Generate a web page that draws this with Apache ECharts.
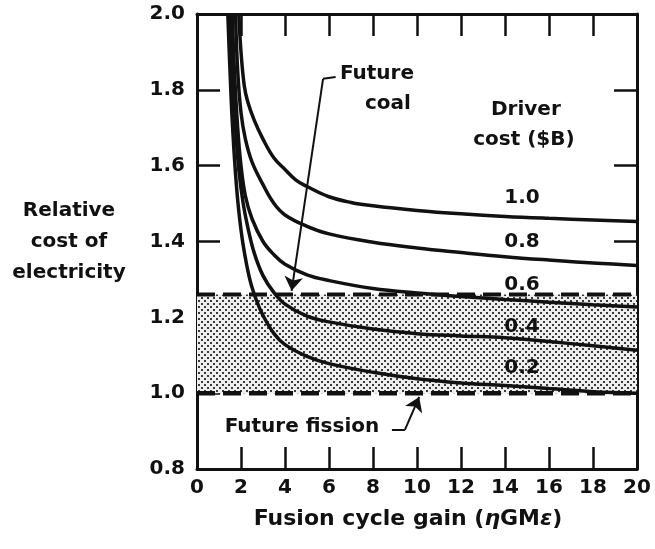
<!DOCTYPE html>
<html><head><meta charset="utf-8">
<script src="https://cdn.jsdelivr.net/npm/echarts@6/dist/echarts.min.js"></script>
<style>html,body{margin:0;padding:0;background:#fff}#c{width:655px;height:549px}</style>
</head><body><div id="c"></div>
<script>
// ---- data ----
const xTicks = [0, 2, 4, 6, 8, 10, 12, 14, 16, 18, 20];
const yTicks = [0.8, 1.0, 1.2, 1.4, 1.6, 1.8, 2.0];
const driverCosts = ['1.0', '0.8', '0.6', '0.4', '0.2'];
const curve10 = [[1.9,2.0],[2.0,1.9],[2.15,1.81],[2.3,1.77],[2.6,1.72],[3,1.67],[3.5,1.62],[4,1.59],[4.5,1.562],[5,1.545],[6,1.518],[7,1.503],[8,1.494],[10,1.482],[12,1.473],[14,1.466],[16,1.461],[18,1.457],[20,1.453]];
const curve08 = [[1.75,2.0],[1.85,1.85],[2.0,1.74],[2.2,1.67],[2.5,1.61],[3,1.55],[3.5,1.5],[4,1.47],[5,1.44],[6,1.42],[8,1.398],[10,1.383],[12,1.371],[14,1.36],[16,1.351],[18,1.343],[20,1.337]];
const curve06 = [[1.6,2.0],[1.7,1.85],[1.85,1.7],[2.0,1.6],[2.2,1.52],[2.5,1.46],[3,1.40],[3.5,1.365],[4,1.34],[5,1.312],[6,1.297],[8,1.276],[10,1.264],[12,1.255],[14,1.247],[16,1.24],[18,1.233],[20,1.227]];
const curve04 = [[1.5,2.0],[1.6,1.85],[1.75,1.7],[1.9,1.59],[2.1,1.5],[2.3,1.44],[2.6,1.37],[3,1.31],[3.5,1.265],[4,1.235],[5,1.203],[6,1.188],[8,1.169],[10,1.157],[12,1.151],[14,1.146],[16,1.136],[18,1.125],[20,1.113]];
const curve02 = [[1.4,2.0],[1.5,1.85],[1.6,1.72],[1.75,1.58],[1.9,1.48],[2.1,1.39],[2.4,1.30],[2.7,1.245],[3,1.205],[3.5,1.157],[4,1.128],[5,1.097],[6,1.078],[8,1.055],[10,1.038],[12,1.027],[14,1.02],[16,1.012],[18,1.004],[20,1.0]];
const curves = [curve10, curve08, curve06, curve04, curve02];
const futureCoal = 1.26;
const futureFission = 1.0;

// ---- rendering ----
const FONT = 'DejaVu Sans';
const pc = document.createElement('canvas'); pc.width = 6; pc.height = 6;
const g = pc.getContext('2d');
g.fillStyle = '#eeeeee'; g.fillRect(0, 0, 6, 6);
g.fillStyle = '#3a3a3a'; g.fillRect(0, 0, 2, 2); g.fillRect(3, 3, 2, 2);
const pattern = { image: pc, repeat: 'repeat' };

const INK = '#111';
const txt = { color: INK, fontFamily: FONT, fontWeight: 'bold', fontSize: 20 };
const xMin = xTicks[0], xMax = xTicks[xTicks.length - 1];
const yMin = yTicks[0], yMax = yTicks[yTicks.length - 1];

function hAxis(pos, show) {
  return {
    type: 'value', position: pos, min: xMin, max: xMax, interval: 2,
    axisLine: { show: true, onZero: false, lineStyle: { color: INK, width: 3 } },
    axisTick: { show: true, inside: true, length: 22, lineStyle: { color: INK, width: 2.5 } },
    axisLabel: { show: show, margin: 9, ...txt, formatter: v => String(v) },
    splitLine: { show: false }
  };
}
function vAxis(pos, show) {
  return {
    type: 'value', position: pos, min: yMin, max: yMax, interval: 0.2,
    axisLine: { show: true, onZero: false, lineStyle: { color: INK, width: 3 } },
    axisTick: { show: true, inside: true, length: 23, lineStyle: { color: INK, width: 2.5 } },
    axisLabel: { show: show, margin: 12, ...txt, formatter: v => v.toFixed(1) },
    splitLine: { show: false }
  };
}
const xa = hAxis('bottom', true);
xa.name = 'Fusion cycle gain ({i|η}GM{i|ε})';
xa.nameLocation = 'middle';
xa.nameGap = 50;
xa.nameTextStyle = { ...txt, fontSize: 22, verticalAlign: 'middle', padding: [0, 18, 0, 0],
  rich: { i: { ...txt, fontSize: 22, fontStyle: 'italic' } } };
const ya = vAxis('left', true);
ya.name = 'Relative\ncost of\nelectricity';
ya.nameLocation = 'middle';
ya.nameRotate = 0;
ya.nameGap = 128;
ya.nameTextStyle = { ...txt, align: 'center', verticalAlign: 'middle', lineHeight: 31 };

const series = [];
series.push({
  type: 'line', z: 2, data: [[xMin, futureCoal], [xMax, futureCoal]], symbol: 'none', silent: true,
  lineStyle: { color: INK, width: 4, type: [18, 8] },
  markArea: { silent: true, itemStyle: { color: pattern },
    data: [[{ coord: [xMin, futureCoal] }, { coord: [xMax, futureFission] }]] }
});
series.push({
  type: 'line', z: 2, data: [[xMin, futureFission], [xMax, futureFission]], symbol: 'none', silent: true,
  lineStyle: { color: INK, width: 4.5, type: [18, 8] }
});
curves.forEach((c, i) => series.push({
  type: 'line', z: 3, name: driverCosts[i], data: c, symbol: 'none', smooth: 0.4,
  sampling: 'none', clip: true, silent: true, lineStyle: { color: INK, width: 3.5 }
}));
const labelPts = [
  { name: '1.0', value: [14.77, 1.515] },
  { name: '0.8', value: [14.77, 1.399] },
  { name: '0.6', value: [14.77, 1.285] },
  { name: '0.4', value: [14.77, 1.175] },
  { name: '0.2', value: [14.77, 1.067] },
  { name: 'Driver', value: [14.95, 1.747] },
  { name: 'cost ($B)', value: [14.86, 1.668] },
  { name: 'Future', value: [8.18, 1.842] },
  { name: 'coal', value: [8.68, 1.762] },
  { name: 'Future fission', value: [4.77, 0.911] }
];
const arrowEnd = (c) => ({ coord: c, symbol: 'arrow', symbolSize: 14 });
const plainEnd = (c) => ({ coord: c, symbol: 'none', symbolSize: 0 });
series.push({
  type: 'scatter', z: 5, symbolSize: 0, silent: true, data: labelPts,
  itemStyle: { color: INK, opacity: 1 },
  label: { show: true, position: 'inside', ...txt, textBorderWidth: 0, textShadowBlur: 0,
    formatter: p => p.name },
  markLine: {
    silent: true, symbol: ['none', 'arrow'], symbolSize: 14, animation: false,
    label: { show: false },
    itemStyle: { color: INK, opacity: 1 },
    lineStyle: { color: INK, width: 2, type: 'solid', opacity: 1 },
    data: [
      [plainEnd([6.3, 1.834]), plainEnd([5.73, 1.829])],
      [plainEnd([5.73, 1.829]), arrowEnd([4.3, 1.27])],
      [plainEnd([8.86, 0.903]), plainEnd([9.45, 0.903])],
      [{ coord: [9.45, 0.903], symbol: 'none', symbolSize: 0, lineStyle: { curveness: 0.35 } }, arrowEnd([10.1, 0.99])]
    ]
  }
});

const chart = echarts.init(document.getElementById('c'), null, { renderer: 'canvas' });
chart.setOption({
  animation: false,
  backgroundColor: '#fff',
  grid: { left: 197, right: 18, top: 14, bottom: 80, containLabel: false },
  xAxis: [xa, hAxis('top', false)],
  yAxis: [ya, vAxis('right', false)],
  series: series
});
</script></body></html>
